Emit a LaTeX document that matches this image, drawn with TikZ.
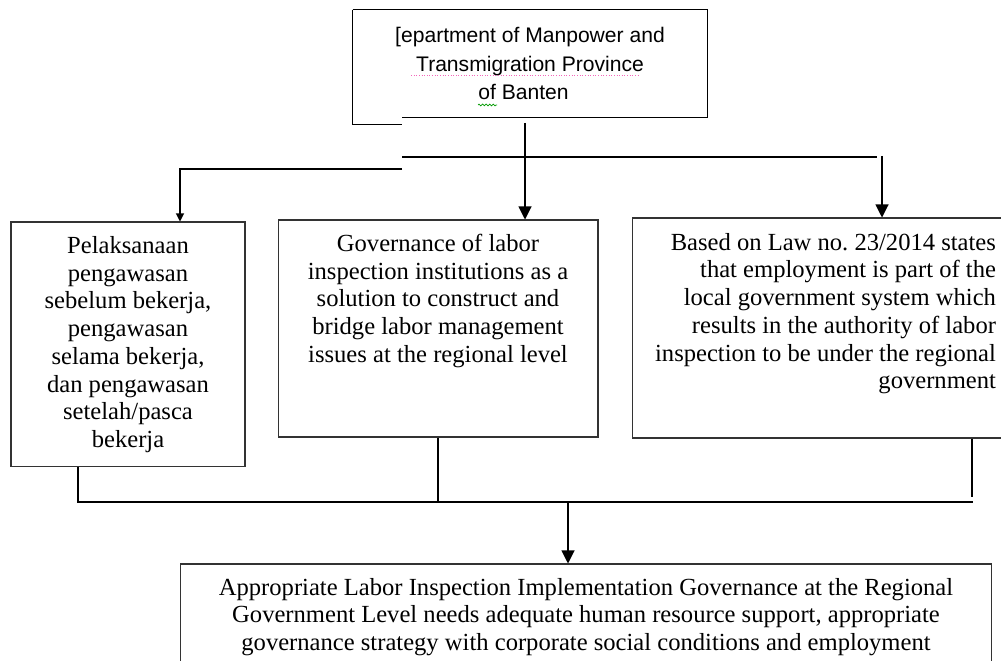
\documentclass[tikz,border=0pt]{standalone}
\usepackage{fontspec}
\setmainfont{Liberation Serif}
\newfontfamily\arialfont{Liberation Sans}
\usetikzlibrary{arrows.meta}
\usetikzlibrary{calc}
\usetikzlibrary{decorations.pathmorphing}
\frenchspacing

\tikzset{
  kotak/.style={draw=black!80, line width=0.6pt, inner sep=0pt, font=\fontsize{14}{15.8}\selectfont},
  garis/.style={line width=0.6pt},
  panah/.style={garis, -{Triangle[length=0.26cm,width=0.26cm]}},
  panahkecil/.style={garis, -{Triangle[length=0.16cm,width=0.16cm]}}
}

\begin{document}
\begin{tikzpicture}[x=0.02cm,y=-0.02cm] %1px = 0.02cm
    \clip (0,0) rectangle (1001,661);
    \node [minimum width=7.08cm, minimum height=2.14cm, inner sep=0pt, align=center, font=\arialfont\fontsize{12}{16.3}\selectfont] (dinas) at (530,63.5) {{[}epartment of Manpower and\\ Transmigration Province\hspace*{0.2cm}\\ of Banten\hspace*{0.26cm}};
    \draw [garis] (dinas.north west) -- (dinas.north east) -- (dinas.south east) -- ++(-305,0);
    \draw [garis] (dinas.north west) -- ++(0,115) -- ++(49,0);
    \draw [magenta!60, line width=0.5pt, densely dotted] (411,75) -- (639,75);
    \draw [green!60!black, line width=0.4pt, decorate, decoration={snake, amplitude=0.5pt, segment length=2pt}] (478,105) -- (497,105);
    \node [kotak, minimum width=4.68cm, minimum height=4.9cm] (laksana) at (128,344.5) {\parbox{4.1cm}{\centering Pelaksanaan\\ pengawasan\\ sebelum bekerja,\\ pengawasan\\ selama bekerja,\\ dan pengawasan\\ setelah/pasca\\ bekerja}\hspace{0.54cm}};
    \node [kotak, minimum width=6.4cm, minimum height=4.34cm] (tatakelola) at (438,328.5) {\parbox[c][3.78cm][t]{6.2cm}{\centering Governance of labor\\ inspection institutions as a\\ solution to construct and\\ bridge labor management\\ issues at the regional level}};
    \node [kotak, minimum width=7.56cm, minimum height=4.4cm] (undang) at (821,328) {\parbox[c][3.8cm][t]{7.0cm}{\raggedleft Based on Law no. 23/2014 states\\ that employment is part of the\\ local government system which\\ results in the authority of labor\\ inspection to be under the regional\\ government}};
    \node [kotak, minimum width=16.24cm, minimum height=2.72cm] (hasil) at (586,632) {\parbox[c][2.16cm][t]{16cm}{\centering Appropriate Labor Inspection Implementation Governance at the Regional\\ Government Level needs adequate human resource support, appropriate\\ governance strategy with corporate social conditions and employment}};
    \coordinate (atas) at (525,123);
    \coordinate (ka) at (402,157);
    \coordinate (kb) at (877,157);
    \coordinate (kanan) at (882,156);
    \coordinate (kc) at (402,169);
    \coordinate (kiri) at (180,169);
    \coordinate (b1) at (78,502);
    \coordinate (b2) at (973,502);
    \coordinate (b3) at (972,497);
    \coordinate (bawah) at (568,503);
    \draw [panah] (atas) -- (atas |- tatakelola.north);
    \draw [garis] (ka) -- (kb);
    \draw [panah] (kanan) -- (kanan |- undang.north);
    \draw [panahkecil] (kc) -- (kiri) -- (kiri |- laksana.north);
    \draw [garis] (b1 |- laksana.south) -- (b1) -- (b2);
    \draw [garis] (tatakelola.south) -- (tatakelola.south |- b1);
    \draw [garis] (b3 |- undang.south) -- (b3);
    \draw [panah] (bawah) -- (bawah |- hasil.north);
\end{tikzpicture}
\end{document}
